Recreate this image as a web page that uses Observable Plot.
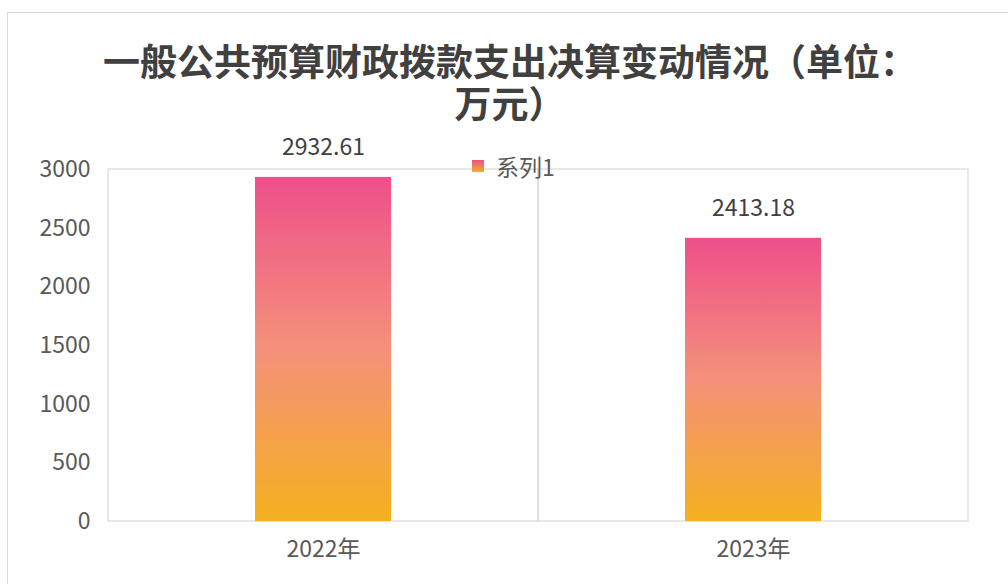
<!DOCTYPE html>
<html>
<head>
<meta charset="utf-8">
<script src="https://cdn.jsdelivr.net/npm/d3@7"></script>
<script src="https://cdn.jsdelivr.net/npm/@observablehq/plot@0.6"></script>
<style>
  html, body { margin: 0; padding: 0; background: #fff; width: 1008px; height: 584px; overflow: hidden; }
  body { position: relative; font-family: "Noto Sans CJK SC", "Noto Sans", sans-serif; }
  #box { position: absolute; left: 7px; top: 12px; width: 1010px; height: 580px; border: 1px solid #d9d9d9; box-sizing: border-box; }
  .tline { position: absolute; left: 7px; width: 1006px; text-align: center; font-family: "Liberation Sans", "Noto Sans CJK SC", sans-serif; font-size: 37px; line-height: 41px; height: 41px; font-weight: bold; color: #404040; white-space: nowrap; }
  #t1 { top: 43px; }
  #t2 { top: 85px; }
  #chart { position: absolute; left: 0; top: 125px; }
  #legend { position: absolute; left: 472px; top: 149px; display: flex; align-items: center; font-size: 23px; color: #595959; }
  #legend .sw { width: 12px; height: 12px; margin-right: 12px; background: linear-gradient(#EE4F8A, #F5B01F); }
</style>
</head>
<body>
<div id="box"></div>
<div class="tline" id="t1">一般公共预算财政拨款支出决算变动情况（单位：</div>
<div class="tline" id="t2">万元）</div>
<div id="chart"></div>
<div id="legend"><span class="sw"></span><span id="legtext"></span></div>
<script>
const categories = ["2022年", "2023年"];
const values = [2932.61, 2413.18];
const yTicks = [0, 500, 1000, 1500, 2000, 2500, 3000];
const seriesName = "系列1";

const data = categories.map((c, i) => ({ year: c, value: values[i] }));
document.getElementById("legtext").textContent = seriesName;

const chart = Plot.plot({
  width: 1008,
  height: 459,
  marginTop: 44,
  marginBottom: 63,
  marginLeft: 107,
  marginRight: 40,
  style: { fontFamily: "'Noto Sans CJK SC', 'Noto Sans', sans-serif", fontSize: "23px", color: "#595959", background: "transparent" },
  x: { domain: categories, padding: 0, label: null },
  y: { domain: [0, d3.max(yTicks)], label: null },
  marks: [
    Plot.barY(categories, { x: d => d, y1: 0, y2: d3.max(yTicks), fill: "none", stroke: "#d9d9d9", strokeWidth: 1.2 }),
    Plot.barY(data, { x: "year", y: "value", fill: "url(#barGrad)", insetLeft: 147, insetRight: 147 }),
    Plot.text(data, { x: "year", y: "value", text: d => d.value.toFixed(2), dy: -30, lineAnchor: "middle", fill: "#404040", fontSize: 23 }),
    Plot.axisY({ ticks: yTicks, tickFormat: d => String(d), tickSize: 0, tickPadding: 17, fontSize: 23, fill: "#595959" }),
    Plot.axisX({ tickSize: 0, tickPadding: 19, fontSize: 23, fill: "#595959" })
  ]
});

const svg = d3.select(chart);
const defs = svg.insert("defs", ":first-child");
const g = defs.append("linearGradient").attr("id", "barGrad").attr("x1", 0).attr("y1", 0).attr("x2", 0).attr("y2", 1);
g.append("stop").attr("offset", "0%").attr("stop-color", "#EE4F8A");
g.append("stop").attr("offset", "50%").attr("stop-color", "#F4917A");
g.append("stop").attr("offset", "100%").attr("stop-color", "#F5B01F");

document.getElementById("chart").appendChild(chart);
</script>
</body>
</html>
